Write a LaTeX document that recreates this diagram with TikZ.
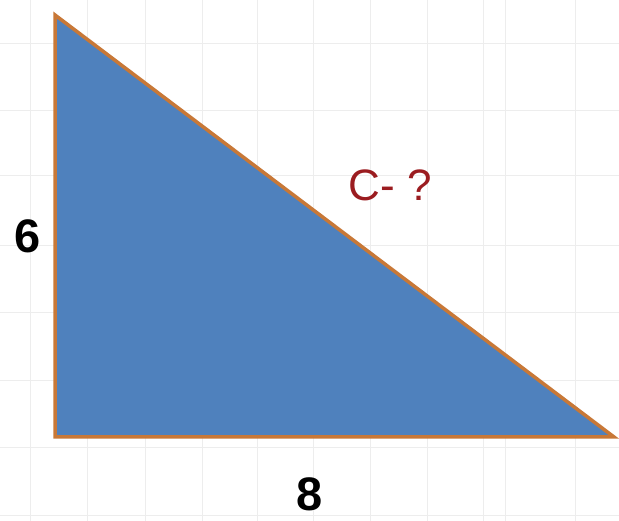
\documentclass[tikz,border=0pt]{standalone}
\usepackage{fontspec}
\setmainfont{Liberation Sans}
\begin{document}
\begin{tikzpicture}[x=1pt,y=-1pt,
  gridline/.style={draw=gray!14,line width=0.8pt},
  tri/.style={fill={rgb,255:red,79;green,129;blue,189},draw={rgb,255:red,200;green,120;blue,55},line width=3.5pt,line join=miter},
  numlbl/.style={font=\fontsize{47}{50}\selectfont\bfseries,text=black,inner sep=0pt},
  clbl/.style={font=\fontsize{44}{46}\selectfont,text={rgb,255:red,155;green,28;blue,32},inner sep=0pt}]
\useasboundingbox (0,0) rectangle (619,521);
\fill[white] (0,0) rectangle (619,521);
\foreach \x in {30,87,145,202,257,313,370,427,483,505,575}
  \draw[gridline] (\x,0) -- (\x,521);
\foreach \y in {43,110,175,245,312,380,447,515}
  \draw[gridline] (0,\y) -- (619,\y);
\coordinate (A) at (55,15);
\coordinate (B) at (55,437);
\coordinate (C) at (614,437);
\draw[tri] (A) -- (B) -- (C) -- cycle;
\node[numlbl] (six) at (28,236) {6};
\node[numlbl] (eight) at (310,494) {8};
\node[clbl] (hyp) at (390,185) {C- ?};
\end{tikzpicture}
\end{document}
